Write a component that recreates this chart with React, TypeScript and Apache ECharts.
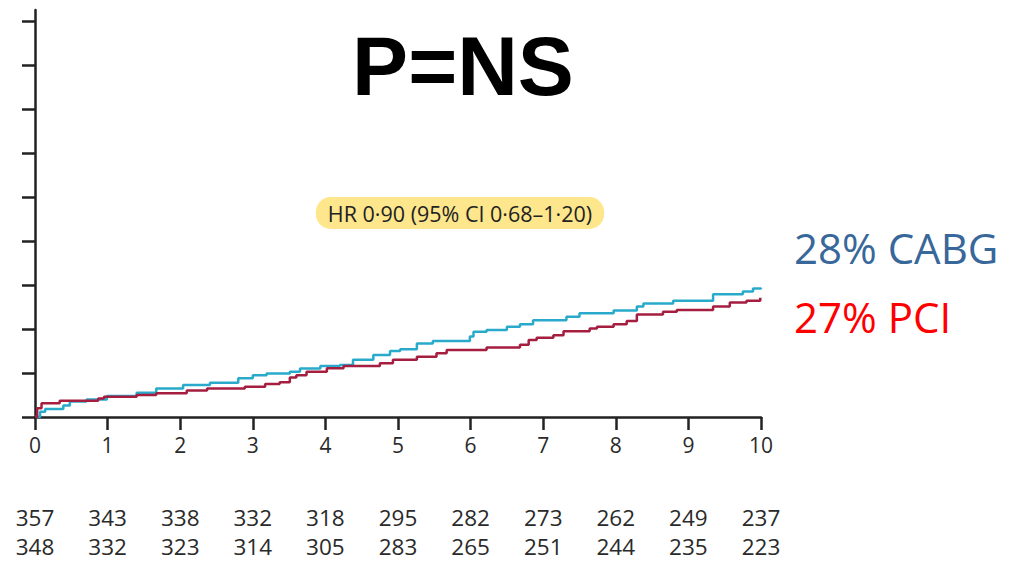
import React, { useEffect, useRef } from "react";
import * as echarts from "echarts";

// Kaplan-Meier cumulative event curves (years, %)
const cabgTimes = [0, 0.07, 0.14, 0.39, 0.48, 0.71, 0.99, 1.4, 1.67, 2.04, 2.41, 2.8, 3.0, 3.19, 3.51, 3.65, 3.93, 4.2, 4.38, 4.66, 4.89, 5.03, 5.26, 5.48, 5.99, 6.04, 6.22, 6.5, 6.68, 6.86, 7.32, 7.5, 7.97, 8.29, 8.38, 8.79, 9.34, 9.75, 9.89, 10];
const cabgValues = [0, 1.2, 1.8, 2.6, 3.5, 4.0, 4.8, 5.5, 6.5, 7.3, 7.8, 8.8, 9.5, 9.9, 10.3, 11.0, 11.6, 11.8, 13.0, 14.1, 15.0, 15.4, 16.7, 17.3, 18.3, 19.4, 19.8, 20.5, 21.1, 22.0, 22.8, 23.6, 24.2, 25.1, 25.8, 26.4, 27.9, 28.5, 29.2, 29.4];
const pciTimes = [0, 0.03, 0.09, 0.34, 0.87, 0.95, 1.4, 1.67, 2.09, 2.37, 2.89, 3.17, 3.37, 3.51, 3.6, 3.74, 4.02, 4.25, 4.75, 4.93, 5.26, 5.53, 5.67, 6.22, 6.68, 6.8, 6.91, 7.14, 7.28, 7.64, 7.74, 7.97, 8.15, 8.29, 8.65, 8.84, 9.34, 9.57, 9.8, 9.99];
const pciValues = [0, 2.0, 3.1, 3.7, 4.2, 4.6, 5.0, 5.4, 6.0, 6.5, 6.9, 7.5, 7.9, 9.0, 9.5, 10.3, 11.1, 11.6, 12.2, 13.0, 13.7, 14.5, 15.2, 15.8, 16.4, 17.5, 18.0, 18.6, 19.5, 20.1, 20.5, 21.1, 21.8, 23.3, 23.9, 24.3, 25.1, 26.0, 26.4, 27.1];

// Number at risk
const atRiskTop = [357, 343, 338, 332, 318, 295, 282, 273, 262, 249, 237];
const atRiskBottom = [348, 332, 323, 314, 305, 283, 265, 251, 244, 235, 223];

const yTicks = [0, 10, 20, 30, 40, 50, 60, 70, 80, 90];

const title = "P=NS";
const hrText = "HR 0·90 (95% CI 0·68–1·20)";
const cabgLabel = "28% CABG";
const pciLabel = "27% PCI";

export default function App() {
  const ref = useRef<HTMLDivElement>(null);
  useEffect(() => {
    if (!ref.current) return;
    const chart = echarts.init(ref.current, undefined, { renderer: "svg" });
    const axisColor = "#222";
    const riskAxis = (arr: number[], offset: number) => ({
      type: "value",
      min: 0,
      max: 10,
      interval: 1,
      position: "bottom",
      offset,
      axisLine: { show: false },
      axisTick: { show: false },
      splitLine: { show: false },
      axisLabel: {
        margin: 0,
        fontFamily: "Open Sans",
        fontSize: 22.5,
        lineHeight: 22,
        verticalAlign: "middle",
        color: "#2a2a2a",
        formatter: (v: number) => String(arr[Math.round(v)]),
      },
    });
    chart.setOption({
      animation: false,
      backgroundColor: "#ffffff",
      grid: { left: 35, right: 248, top: 10, bottom: 145, containLabel: false },
      xAxis: [
        {
          type: "value",
          min: 0,
          max: 10,
          interval: 1,
          axisLine: { show: true, lineStyle: { color: axisColor, width: 2.5 } },
          axisTick: { show: true, length: 13, lineStyle: { color: axisColor, width: 2.5 } },
          splitLine: { show: false },
          axisLabel: { margin: 17, fontFamily: "Open Sans", fontSize: 21, color: "#2a2a2a" },
        },
        riskAxis(atRiskTop, 100),
        riskAxis(atRiskBottom, 129),
      ],
      yAxis: {
        type: "value",
        min: 0,
        max: 92.5,
        axisLine: { show: true, lineStyle: { color: axisColor, width: 2.5 } },
        axisTick: { show: true, length: 13, customValues: yTicks, lineStyle: { color: axisColor, width: 2.5 } },
        axisLabel: { show: false },
        splitLine: { show: false },
      },
      series: [
        {
          name: "CABG",
          type: "line",
          step: "end",
          showSymbol: false,
          xAxisIndex: 0,
          lineStyle: { color: "#2aaacb", width: 2.5 },
          data: cabgTimes.map((t, i) => [t, cabgValues[i]]),
          z: 3,
        },
        {
          name: "PCI",
          type: "line",
          step: "end",
          showSymbol: false,
          xAxisIndex: 0,
          lineStyle: { color: "#a51e40", width: 2.5 },
          data: pciTimes.map((t, i) => [t, pciValues[i]]),
          z: 4,
        },
      ],
      graphic: [
        {
          type: "text",
          x: 463,
          y: 66,
          style: {
            text: title,
            fontFamily: "Liberation Sans",
            fontWeight: "bold",
            fontSize: 84,
            fill: "#000",
            align: "center",
            verticalAlign: "middle",
          },
        },
        {
          type: "text",
          x: 460,
          y: 213,
          style: {
            text: hrText,
            fontFamily: "Open Sans",
            fontSize: 21.5,
            lineHeight: 22,
            fill: "#222",
            align: "center",
            verticalAlign: "middle",
            backgroundColor: "#fde68c",
            borderRadius: 15,
            padding: [5, 12, 5, 12],
          },
        },
        {
          type: "text",
          x: 794,
          y: 247,
          style: {
            text: cabgLabel,
            fontFamily: "Open Sans",
            fontSize: 42,
            fill: "#38679a",
            align: "left",
            verticalAlign: "middle",
          },
        },
        {
          type: "text",
          x: 794,
          y: 316,
          style: {
            text: pciLabel,
            fontFamily: "Open Sans",
            fontSize: 42,
            fill: "#ff0000",
            align: "left",
            verticalAlign: "middle",
          },
        },
      ],
    });
    return () => chart.dispose();
  }, []);
  return (
    <div
      ref={ref}
      style={{ position: "fixed", left: 0, top: 0, width: 1009, height: 562, background: "#fff" }}
    />
  );
}
